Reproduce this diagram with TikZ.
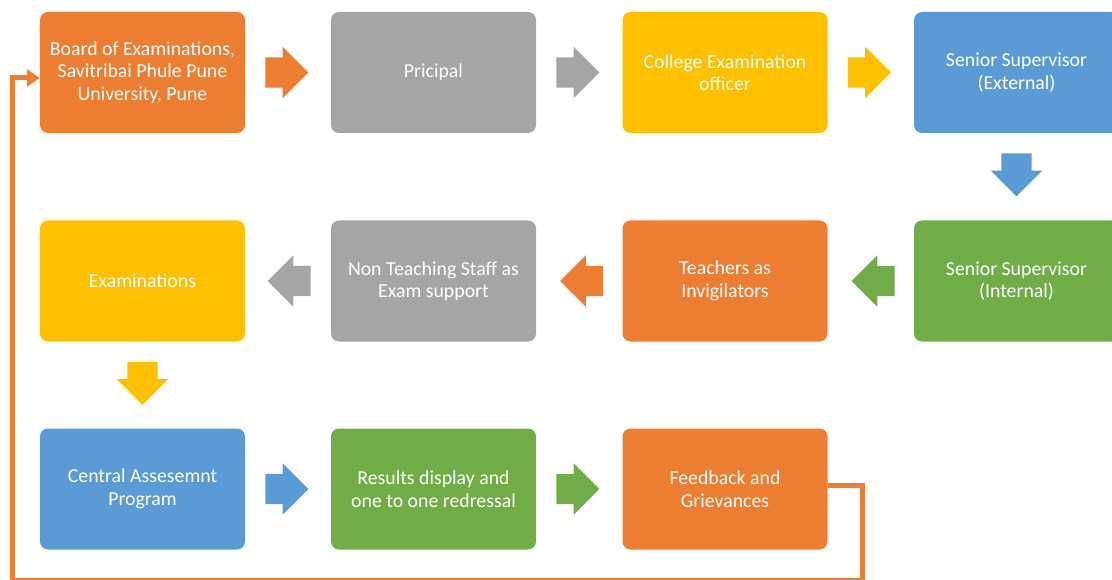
\documentclass[tikz,border=0pt]{standalone}
\usepackage{fontspec}
\setmainfont{Carlito}
\usetikzlibrary{shapes.arrows,arrows.meta}
\definecolor{offorange}{HTML}{ED7D31}
\definecolor{offgray}{HTML}{A5A5A5}
\definecolor{offyellow}{HTML}{FFC000}
\definecolor{offblue}{HTML}{5B9BD5}
\definecolor{offgreen}{HTML}{70AD47}
\tikzset{
  stagebox/.style={rounded corners=8pt, minimum width=205pt, minimum height=121pt,
    inner sep=0pt, align=center, text=white, font=\fontsize{19.8}{22.5}\selectfont},
  flowarrow/.style={single arrow, single arrow head extend=10.5pt, single arrow head indent=0pt,
    minimum height=43pt, minimum width=51pt, inner xsep=0pt, inner ysep=15pt, anchor=tail},
  downarrow/.style={flowarrow, inner xsep=15pt, inner ysep=0pt, shape border rotate=270},
  leftarrow/.style={flowarrow, shape border rotate=180}
}
\begin{document}
\begin{tikzpicture}[x=1pt,y=-1pt]
      \useasboundingbox (0,0) rectangle (1112,580);

      \node[stagebox, fill=offorange] (board) at (142.5,72.5) {Board of Examinations,\\Savitribai Phule Pune\\University, Pune};
      \node[stagebox, fill=offgray] (principal) at (433.5,72.5) {Pricipal};
      \node[stagebox, fill=offyellow] (ceo) at (725,72.5) {College Examination\\officer};
      \node[stagebox, fill=offblue] (supext) at (1016.5,72.5) {Senior Supervisor\\(External)};

      \node[stagebox, fill=offgreen] (supint) at (1016.5,281) {Senior Supervisor\\(Internal)};
      \node[stagebox, fill=offorange] (teachers) at (725,281) {Teachers as\\Invigilators};
      \node[stagebox, fill=offgray] (nonteach) at (433.5,281) {Non Teaching Staff as\\Exam support};
      \node[stagebox, fill=offyellow] (exams) at (142.5,281) {Examinations};

      \node[stagebox, fill=offblue] (cap) at (142.5,489) {Central Assesemnt\\Program};
      \node[stagebox, fill=offgreen] (results) at (433.5,489) {Results display and\\one to one redressal};
      \node[stagebox, fill=offorange] (feedback) at (725,489) {Feedback and\\Grievances};

      \node[flowarrow, fill=offorange] (a1) at ([xshift=20pt]board.east) {};
      \node[flowarrow, fill=offgray] (a2) at ([xshift=20pt]principal.east) {};
      \node[flowarrow, fill=offyellow] (a3) at ([xshift=20pt]ceo.east) {};
      \node[downarrow, fill=offblue] (a4) at ([yshift=-20pt]supext.south) {};
      \node[leftarrow, fill=offgreen] (a5) at ([xshift=-19pt]supint.west) {};
      \node[leftarrow, fill=offorange] (a6) at ([xshift=-19pt]teachers.west) {};
      \node[leftarrow, fill=offgray] (a7) at ([xshift=-20pt]nonteach.west) {};
      \node[downarrow, fill=offyellow] (a8) at ([yshift=-20pt]exams.south) {};
      \node[flowarrow, fill=offblue] (a9) at ([xshift=20pt]cap.east) {};
      \node[flowarrow, fill=offgreen] (a10) at ([xshift=20pt]results.east) {};

      \coordinate (loopright) at (862,580);
      \coordinate (loopleft) at (12.5,580);
      \draw[offorange, line width=5pt, -{Triangle[length=13pt,width=17pt]}]
        ([yshift=4pt]feedback.east) -| (loopright) -- (loopleft) |- ([yshift=-5.5pt]board.west);
    \end{tikzpicture}
\end{document}
